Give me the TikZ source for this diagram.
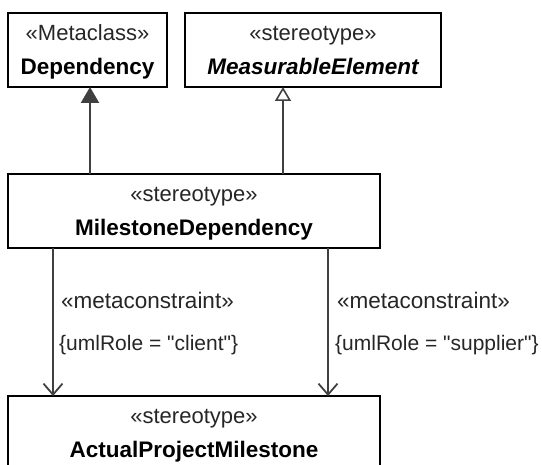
\documentclass[tikz,border=0pt]{standalone}
\usepackage{fontspec}
\setmainfont{Liberation Sans}[Ligatures=TeXOff]
\usetikzlibrary{arrows.meta}
\begin{document}
\begin{tikzpicture}[x=1pt,y=-1pt,
  box/.style={draw=black, line width=2.4pt, inner sep=0pt, outer sep=0pt, anchor=north west},
  stereo/.style={font=\fontsize{22}{26}\selectfont, text=black!85, inner sep=0pt, anchor=base},
  cname/.style={font=\bfseries\fontsize{22.5}{27}\selectfont, text=black, inner sep=0pt, anchor=base},
  lbl/.style={font=\fontsize{21}{25}\selectfont, text=black!85, inner sep=0pt, anchor=base west},
  mc/.style={lbl, font=\fontsize{22.5}{26}\selectfont},
  conn/.style={draw=black!75, line width=2.2pt}]
\useasboundingbox (0,0) rectangle (542,465);
\clip (0,0) rectangle (542,465);
% boxes
\node[box, minimum width=159pt, minimum height=74pt] (dep) at (8,13) {};
\node[box, minimum width=256pt, minimum height=74pt] (me) at (185,13) {};
\node[box, minimum width=372pt, minimum height=74pt] (md) at (8,174) {};
\node[box, minimum width=372pt, minimum height=90pt] (apm) at (8,396) {};
% texts
\node[stereo] (depS) at (87.5,41) {«Metaclass»};
\node[cname] (depN) at (87.5,75) {Dependency};
\node[stereo] (meS) at (313,41) {«stereotype»};
\node[cname, font=\bfseries\itshape\fontsize{22.5}{27}\selectfont] (meN) at (313,75) {MeasurableElement};
\node[stereo] (mdS) at (194,202) {«stereotype»};
\node[cname] (mdN) at (194,236) {MilestoneDependency};
\node[stereo] (apmS) at (194,424) {«stereotype»};
\node[cname] (apmN) at (194,458) {ActualProjectMilestone};
% connector x positions
\coordinate (xa) at (90,0);
\coordinate (xb) at (283,0);
\coordinate (xc) at (53,0);
\coordinate (xd) at (328,0);
% generalizations
\draw[conn, -{Triangle[length=16pt, width=18pt]}] (md.north -| xa) -- (dep.south -| xa);
\draw[conn, -{Triangle[open, length=14pt, width=16pt, line width=1.6pt, fill=white]}] (md.north -| xb) -- (me.south -| xb);
% dependencies
\draw[conn, -{Straight Barb[length=11pt, width=19pt, line width=1.8pt]}] (md.south -| xc) -- (apm.north -| xc);
\draw[conn, -{Straight Barb[length=11pt, width=19pt, line width=1.8pt]}] (md.south -| xd) -- (apm.north -| xd);
% labels
\node[mc] (l1) at (61,309) {«metaconstraint»};
\node[lbl] (l2) at (59,351) {\{umlRole = "client"\}};
\node[mc] (r1) at (337,309) {«metaconstraint»};
\node[lbl] (r2) at (335,351) {\{umlRole = "supplier"\}};
\end{tikzpicture}
\end{document}
